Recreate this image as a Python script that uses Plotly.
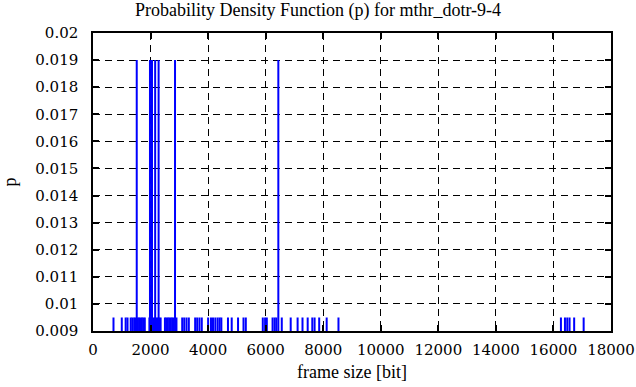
import plotly.graph_objects as go

# Impulse positions (frame size in bits) and probabilities
tall_x = [1520, 1980, 2050, 2160, 2280, 2850, 6440]
tall_p = [0.019] * len(tall_x)

short_x = [712, 1000, 1135, 1200, 1310, 1366,
           1430, 1480, 1550, 1600, 1650, 1700, 1750, 1800,
           1960, 2000, 2100, 2150, 2200, 2250, 2300, 2350,
           2500, 2550, 2600, 2650, 2700, 2750, 2800, 2900,
           3100, 3170, 3250, 3330,
           3550, 3620, 3700, 3780,
           4000, 4100, 4170,
           4250, 4330, 4400, 4460,
           4690, 4820, 5040, 5230, 5310,
           5900, 5980, 6040, 6240, 6310, 6370,
           6560, 6870, 7110, 7280, 7460, 7620, 7700, 7860, 8120, 8530,
           16260, 16400, 16480, 16560, 16720, 17050]
short_p = [0.0095] * len(short_x)

x_ticks = list(range(0, 18001, 2000))
y_ticks = [0.009, 0.01, 0.011, 0.012, 0.013, 0.014, 0.015, 0.016, 0.017, 0.018, 0.019, 0.02]
y_tick_labels = ["0.009", "0.01", "0.011", "0.012", "0.013", "0.014", "0.015",
                 "0.016", "0.017", "0.018", "0.019", "0.02"]

all_x = short_x + tall_x
all_p = short_p + tall_p
xs, ys = [], []
for xv, pv in zip(all_x, all_p):
    xs += [xv, xv, None]
    ys += [0, pv, None]

fig = go.Figure()
fig.add_trace(go.Scatter(x=xs, y=ys, mode="lines",
                         line=dict(color="#0000ff", width=2),
                         showlegend=False, hoverinfo="skip"))

fam = "Liberation Serif, Times New Roman, serif"
tickfont = dict(family="DejaVu Serif, serif", size=15, color="black")
labfont = dict(family=fam, size=18, color="black")

fig.update_layout(
    width=636, height=387,
    margin=dict(l=93, r=25, t=33, b=56, autoexpand=False),
    paper_bgcolor="white", plot_bgcolor="white",
    font=labfont,
    title=dict(text="Probability Density Function (p) for mthr_dotr-9-4",
               x=0.5, xanchor="center", y=0.99, yanchor="top",
               font=labfont),
    xaxis=dict(range=[0, 18000], tickvals=x_ticks, ticktext=[str(v) for v in x_ticks],
               showgrid=True, gridcolor="black", griddash="7px,5px", gridwidth=1,
               showline=True, linecolor="black", linewidth=1.5, mirror="ticks",
               ticks="inside", ticklen=6, tickcolor="black", tickwidth=1.5,
               zeroline=False, automargin=False, tickfont=tickfont,
               ticklabelstandoff=4,
               title=dict(text="frame size [bit]", standoff=8, font=labfont)),
    yaxis=dict(range=[0.009, 0.02], tickvals=y_ticks, ticktext=y_tick_labels,
               showgrid=True, gridcolor="black", griddash="7px,5px", gridwidth=1,
               showline=True, linecolor="black", linewidth=1.5, mirror="ticks",
               ticks="inside", ticklen=6, tickcolor="black", tickwidth=1.5,
               zeroline=False, automargin=False, tickfont=tickfont,
               ticklabelstandoff=10,
               title=dict(text="p", standoff=14, font=labfont)),
)

fig.write_html("out.html", config={"displayModeBar": False},
               post_script="document.body.style.margin='0px';")
